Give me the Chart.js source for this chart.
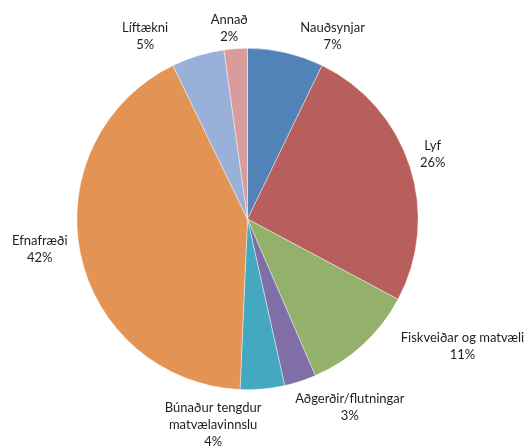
<!DOCTYPE html>
<html><head><meta charset="utf-8">
<script src="https://cdn.jsdelivr.net/npm/chart.js@4"></script>
<style>html,body{margin:0;padding:0;background:#fff}#wrap{width:528px;height:448px}</style>
</head><body><div id="wrap"><canvas id="c" width="528" height="448"></canvas></div>
<script>
const categories = ["Nauðsynjar","Lyf","Fiskveiðar og matvæli","Aðgerðir/flutningar","Búnaður tengdur matvælavinnslu","Efnafræði","Líftækni","Annað"];
const labelLines = [["Nauðsynjar"],["Lyf"],["Fiskveiðar og matvæli"],["Aðgerðir/flutningar"],["Búnaður tengdur","matvælavinnslu"],["Efnafræði"],["Líftækni"],["Annað"]];
const shares = [7.2, 25.6, 10.7, 3.0, 4.2, 42.1, 5.0, 2.2];
const colors = ["#5183b9","#b85e5c","#93b16b","#806ea6","#43a8c0","#e39454","#99b1d9","#d99b9c"];
// label placement: angle (deg clockwise from top) and distance as multiple of radius
const labelAngle = [25.0, 70.7, 120.7, 151.5, 189.5, 261.8, 330.7, 354.5];
const labelDist = [1.18, 1.15, 1.465, 1.257, 1.22, 1.23, 1.226, 1.12];

const labelPlugin = {
  id:'outLabels',
  afterDatasetsDraw(chart){
    const ctx = chart.ctx;
    const meta = chart.getDatasetMeta(0);
    const total = shares.reduce((a,b)=>a+b,0);
    ctx.save();
    ctx.font = '13px Lato, "Liberation Sans", sans-serif';
    ctx.fillStyle = '#1f1f1f';
    ctx.textAlign = 'center';
    ctx.textBaseline = 'middle';
    meta.data.forEach((arc,i)=>{
      const cx = arc.x, cy = arc.y, R = arc.outerRadius;
      const a = labelAngle[i]*Math.PI/180;
      const x = cx + Math.sin(a)*R*labelDist[i];
      const y = cy - Math.cos(a)*R*labelDist[i];
      const lines = labelLines[i].concat([Math.round(shares[i]/total*100)+'%']);
      const lh = 17;
      const y0 = y - (lines.length-1)*lh/2;
      lines.forEach((t,k)=>ctx.fillText(t, x, y0+k*lh));
    });
    ctx.restore();
  }
};

new Chart(document.getElementById('c'), {
  type:'pie',
  data:{labels:categories, datasets:[{data:shares, backgroundColor:colors, borderColor:'rgba(255,255,255,0.6)', borderWidth:0.7}]},
  options:{
    responsive:false, animation:false, rotation:0,
    layout:{padding:{top:48,bottom:58,left:76.5,right:109.5}},
    plugins:{legend:{display:false}, tooltip:{enabled:false}}
  },
  plugins:[labelPlugin]
});
</script></body></html>
